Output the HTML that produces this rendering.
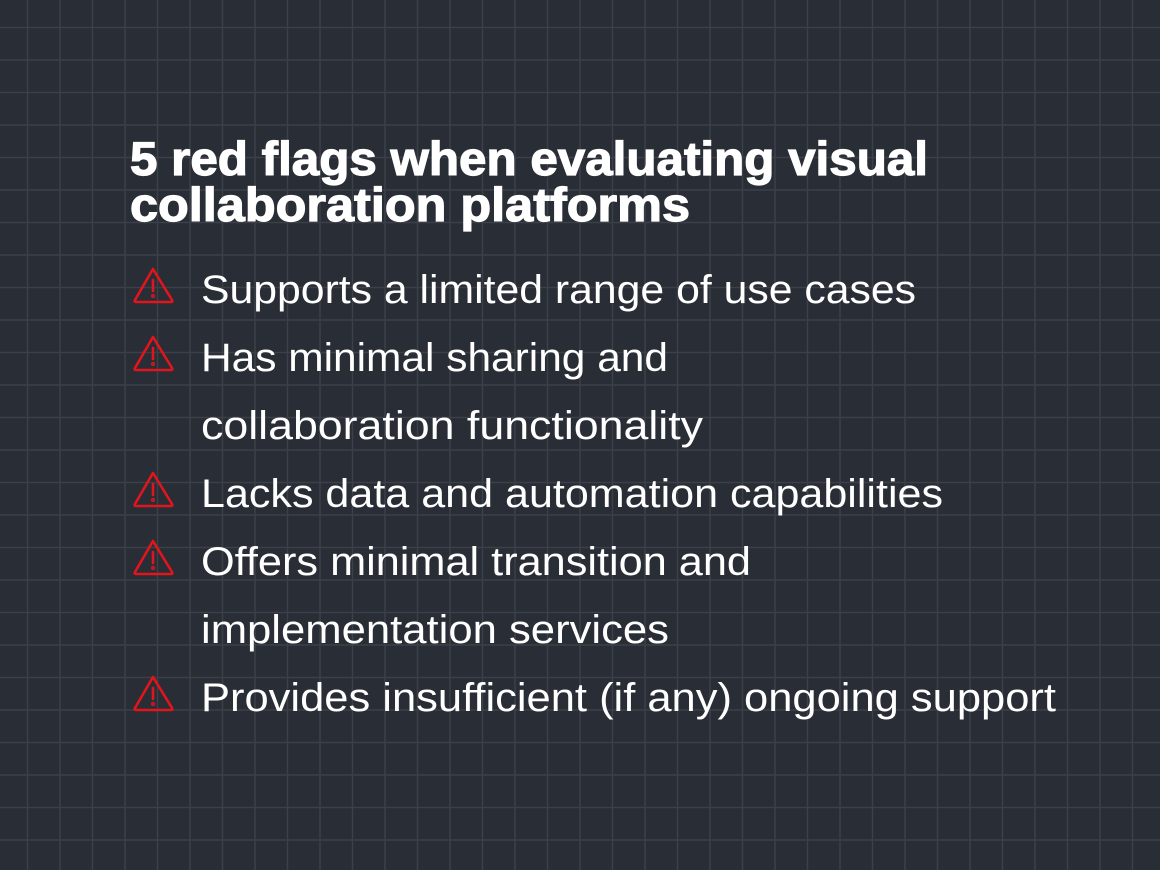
<!DOCTYPE html>
<html><head><style>
html,body{margin:0;padding:0;background:#292d35;}
svg{display:block}
</style></head><body>
<svg width="1160" height="870" xmlns="http://www.w3.org/2000/svg">
<defs>
<g id="w" fill="none" stroke="#e3151c" stroke-width="2.6" stroke-linecap="round" stroke-linejoin="round">
<path d="M18 0 L37 31 Q38 33 36 33 L1 33 Q-1 33 0 31 Z"/>
<path d="M18 11 V22"/>
<circle cx="18" cy="27" r="0.7"/>
</g>
</defs>
<rect width="1160" height="870" fill="#292d35"/>
<g id="grid" stroke="#3b4049" stroke-width="1.5">
<path d="M27.5 0V870M60 0V870M92.5 0V870M125 0V870M157.5 0V870M190 0V870M222.5 0V870M255 0V870M287.5 0V870M320 0V870M352.5 0V870M385 0V870M417.5 0V870M450 0V870M482.5 0V870M515 0V870M547.5 0V870M580 0V870M612.5 0V870M645 0V870M677.5 0V870M710 0V870M742.5 0V870M775 0V870M807.5 0V870M840 0V870M872.5 0V870M905 0V870M937.5 0V870M970 0V870M1002.5 0V870M1035 0V870M1067.5 0V870M1100 0V870M1132.5 0V870"/>
<path d="M0 27.5H1160M0 60H1160M0 92.5H1160M0 125H1160M0 157.5H1160M0 190H1160M0 222.5H1160M0 255H1160M0 287.5H1160M0 320H1160M0 352.5H1160M0 385H1160M0 417.5H1160M0 450H1160M0 482.5H1160M0 515H1160M0 547.5H1160M0 580H1160M0 612.5H1160M0 645H1160M0 677.5H1160M0 710H1160M0 742.5H1160M0 775H1160M0 807.5H1160M0 840H1160"/>
</g>
<g font-family="Liberation Sans, sans-serif" fill="#fff">
<g stroke="#fff" stroke-width="1.2">
<text x="130" y="175" font-size="47" font-weight="bold" textLength="798" lengthAdjust="spacingAndGlyphs">5 red flags when evaluating visual</text>
<text x="130" y="221" font-size="47" font-weight="bold" textLength="560" lengthAdjust="spacingAndGlyphs">collaboration platforms</text>
</g>
<g font-size="40">
<text x="201" y="303" textLength="715" lengthAdjust="spacingAndGlyphs">Supports a limited range of use cases</text>
<text x="201" y="371" textLength="467" lengthAdjust="spacingAndGlyphs">Has minimal sharing and</text>
<text x="201" y="439" textLength="502" lengthAdjust="spacingAndGlyphs">collaboration functionality</text>
<text x="201" y="507" textLength="742" lengthAdjust="spacingAndGlyphs">Lacks data and automation capabilities</text>
<text x="201" y="575" textLength="550" lengthAdjust="spacingAndGlyphs">Offers minimal transition and</text>
<text x="201" y="643" textLength="468" lengthAdjust="spacingAndGlyphs">implementation services</text>
<text x="201" y="711" textLength="855" lengthAdjust="spacingAndGlyphs">Provides insufficient (if any) ongoing support</text>
</g>
</g>
<use href="#w" x="135" y="269"/>
<use href="#w" x="135" y="337"/>
<use href="#w" x="135" y="473"/>
<use href="#w" x="135" y="541"/>
<use href="#w" x="135" y="677"/>
</svg>
</body></html>
